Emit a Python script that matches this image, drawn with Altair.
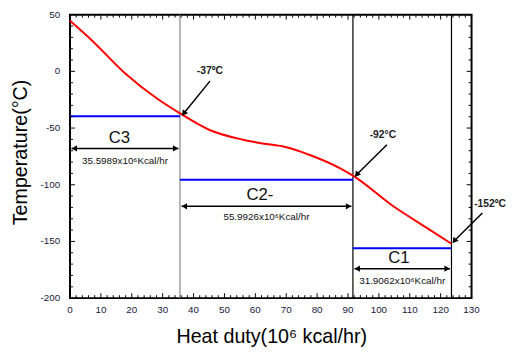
import altair as alt
import pandas as pd

# ---- data ----
curve_x = [0, 7.1, 17.7, 28.4, 35.6, 45.2, 56.0, 66.6, 68.7, 77.2, 87.8, 91.6, 104.8, 115.5, 123.5]
curve_y = [44.6, 27.3, -1.4, -24.4, -37.0, -51.7, -60.3, -65.2, -66.0, -73.3, -86.0, -92.0, -119.2, -138.0, -152.0]

seg_names = ["C3", "C2-", "C1"]
seg_x0 = [0, 35.5989, 91.5915]
seg_x1 = [35.5989, 91.5915, 123.4977]
seg_y = [-39.5, -95.5, -156.0]
seg_name_x = [16.0, 61.5, 106.5]
seg_name_y = [-58.6, -109.5, -164.7]
seg_arrow_y = [-68.0, -119.0, -174.0]
seg_duty = ["35.5989x10⁶Kcal/hr", "55.9926x10⁶Kcal/hr", "31.9062x10⁶Kcal/hr"]
seg_duty_y = [-79.3, -128.4, -184.5]

vline_x = [35.5989, 91.5915, 123.4977]
vline_color = ["#888888", "#000000", "#000000"]

ann_text = ["-37ºC", "-92°C", "-152ºC"]
ann_tx = [45.3, 101.3, 136.0]
ann_ty = [0.0, -56.0, -117.0]
ann_tail_x = [45.3, 102.6, 133.5]
ann_tail_y = [-8.6, -64.7, -125.0]
ann_head_x = [37.0, 93.0, 124.6]
ann_head_y = [-36.5, -90.5, -149.0]

x_title = "Heat duty(10⁶ kcal/hr)"
y_title = "Temperature(°C)"
x_major = list(range(0, 131, 10))
x_minor = [v for v in range(0, 131, 2) if v % 10 != 0]
y_major = list(range(-200, 51, 50))
y_minor = [v for v in range(-200, 51, 10) if v % 50 != 0]

W, H = 408, 288
XMIN, XMAX, YMIN, YMAX = 0, 130, -200, 50
xs = alt.Scale(domain=[XMIN, XMAX], nice=False, zero=False)
ys = alt.Scale(domain=[YMIN, YMAX], nice=False, zero=False)
ux = (XMAX - XMIN) / W   # data units per pixel
uy = (YMAX - YMIN) / H
FONT = "Liberation Sans"

curve = pd.DataFrame({"x": curve_x, "y": curve_y})
segs = pd.DataFrame({
    "name": seg_names, "x0": seg_x0, "x1": seg_x1, "y": seg_y,
    "nx": seg_name_x, "ny": seg_name_y, "ay": seg_arrow_y,
    "duty": seg_duty, "dy": seg_duty_y,
})
segs["cx"] = (segs["x0"] + segs["x1"]) / 2
segs["ax0"] = segs["x0"] + 0.5
segs["ax1"] = segs["x1"] - 0.5
segs["tl"] = segs["x0"] + 1.4
segs["tr"] = segs["x1"] - 1.4
vl = pd.DataFrame({"x": vline_x, "c": vline_color})
ann = pd.DataFrame({"t": ann_text, "tx": ann_tx, "ty": ann_ty,
                    "x0": ann_tail_x, "y0": ann_tail_y,
                    "x1": ann_head_x, "y1": ann_head_y})

# inward tick marks on all four sides, built from the tick arrays
xrows, yrows = [], []
for v in x_major + x_minor:
    ln = 5 if v in x_major else 3
    xrows.append({"v": float(v), "p0": float(YMIN), "p1": YMIN + ln * uy})
    xrows.append({"v": float(v), "p0": float(YMAX), "p1": YMAX - ln * uy})
for v in y_major + y_minor:
    ln = 5 if v in y_major else 3
    yrows.append({"v": float(v), "p0": float(XMIN), "p1": XMIN + ln * ux})
    yrows.append({"v": float(v), "p0": float(XMAX), "p1": XMAX - ln * ux})
xtk = pd.DataFrame(xrows)
ytk = pd.DataFrame(yrows)

xlab = pd.DataFrame({"v": x_major, "t": [str(v) for v in x_major]})
ylab = pd.DataFrame({"v": y_major, "t": [str(v) for v in y_major]})

X = lambda f: alt.X(f, type="quantitative", scale=xs, axis=None)
Y = lambda f: alt.Y(f, type="quantitative", scale=ys, axis=None)

xticks = alt.Chart(xtk).mark_rule(color="#000000", strokeWidth=1, opacity=1).encode(
    x=X("v"), y=Y("p0"), y2="p1")
yticks = alt.Chart(ytk).mark_rule(color="#000000", strokeWidth=1, opacity=1).encode(
    y=Y("v"), x=X("p0"), x2="p1")

xlabels = alt.Chart(xlab).mark_text(font=FONT, fontSize=10, color="#202040",
                                    baseline="middle").encode(
    x=X("v"), y=alt.value(H + 12), text="t:N")
ylabels = alt.Chart(ylab).mark_text(font=FONT, fontSize=10, color="#202040",
                                    align="right", baseline="middle").encode(
    y=Y("v"), x=alt.value(-10), text="t:N")
xtitle = alt.Chart(pd.DataFrame({"t": [x_title]})).mark_text(
    font=FONT, fontSize=20, color="#000000", baseline="middle").encode(
    x=alt.value(W / 2 + 1), y=alt.value(H + 40), text="t:N")
ytitle = alt.Chart(pd.DataFrame({"t": [y_title]})).mark_text(
    font=FONT, fontSize=20, color="#000000", baseline="middle", angle=270).encode(
    x=alt.value(-50), y=alt.value(H / 2 - 4), text="t:N")

vlines = alt.Chart(vl).mark_rule(strokeWidth=1.2).encode(
    x=X("x"), y=alt.value(0), y2=alt.value(H),
    color=alt.Color("c:N", scale=None))

blue = alt.Chart(segs).mark_rule(color="#0000ff", strokeWidth=2).encode(
    x=X("x0"), x2="x1", y=Y("y"))

red = alt.Chart(curve).mark_line(color="#ff0000", strokeWidth=2, interpolate="monotone").encode(
    x=X("x"), y=Y("y"))

names = alt.Chart(segs).mark_text(fontSize=17, font=FONT, color="#111111").encode(
    x=X("nx"), y=Y("ny"), text="name:N")

darrow = alt.Chart(segs).mark_rule(color="black", strokeWidth=1.5).encode(
    x=X("ax0"), x2="ax1", y=Y("ay"))
lhead = alt.Chart(segs).mark_point(shape="triangle-left", filled=True, color="black",
                                   opacity=1, size=40).encode(x=X("tl"), y=Y("ay"))
rhead = alt.Chart(segs).mark_point(shape="triangle-right", filled=True, color="black",
                                   opacity=1, size=40).encode(x=X("tr"), y=Y("ay"))
duty = alt.Chart(segs).mark_text(fontSize=10, font=FONT, color="#111111").encode(
    x=X("cx"), y=Y("dy"), text="duty:N")

ann_arrow = alt.Chart(ann).mark_rule(color="black", strokeWidth=1.5).encode(
    x=X("x0"), y=Y("y0"), x2="x1", y2="y1")
ann_head = alt.Chart(ann).mark_point(shape="triangle", filled=True, color="black",
                                     opacity=1, size=45, angle=218).encode(
    x=X("x1"), y=Y("y1"))
ann_txt = alt.Chart(ann).mark_text(fontSize=10.5, fontWeight="bold", font=FONT,
                                   color="#222222").encode(
    x=X("tx"), y=Y("ty"), text="t:N")

chart = alt.layer(
    vlines, blue, red, xticks, yticks, names, darrow, lhead, rhead, duty,
    ann_arrow, ann_head, ann_txt, xlabels, ylabels, xtitle, ytitle
).properties(
    width=W, height=H,
    autosize=alt.AutoSizeParams(type="none"),
    padding={"left": 63, "top": 4, "right": 35, "bottom": 55},
).configure_view(stroke="black", strokeWidth=2)

chart.save("out.html", embed_options={"renderer": "svg", "actions": False})
